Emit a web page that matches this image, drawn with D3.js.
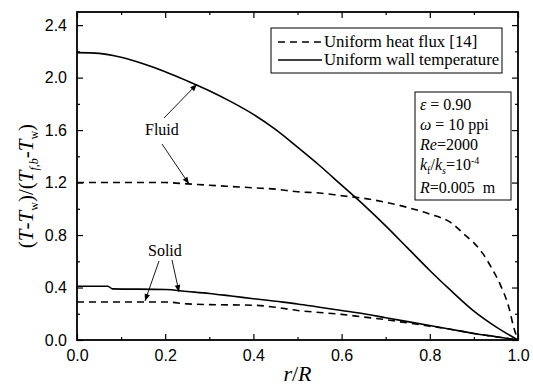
<!DOCTYPE html>
<html>
<head>
<meta charset="utf-8">
<script src="https://cdn.jsdelivr.net/npm/d3@7"></script>
<style>
  body { margin: 0; background: #fff; }
  svg { display: block; }
  .serif { font-family: "Liberation Serif", "Times New Roman", Times, serif; }
  .sans { font-family: "Liberation Sans", Arial, Helvetica, sans-serif; }
</style>
</head>
<body>
<div id="chart"></div>
<script>
// data
const rFluidUWT = [0, 0.05, 0.1, 0.15, 0.2, 0.25, 0.3, 0.35, 0.4, 0.45, 0.5, 0.55, 0.6, 0.65, 0.7, 0.75, 0.8, 0.85, 0.9, 0.95, 1.0];
const vFluidUWT = [2.19, 2.185, 2.155, 2.105, 2.045, 1.975, 1.90, 1.815, 1.72, 1.605, 1.47, 1.33, 1.18, 1.03, 0.87, 0.70, 0.53, 0.37, 0.22, 0.10, 0];

const rFluidUHF = [0, 0.1, 0.2, 0.25, 0.3, 0.35, 0.4, 0.45, 0.5, 0.55, 0.6, 0.65, 0.7, 0.75, 0.8, 0.85, 0.88, 0.9, 0.92, 0.94, 0.96, 0.98, 0.99, 1.0];
const vFluidUHF = [1.2, 1.2, 1.2, 1.19, 1.18, 1.17, 1.16, 1.15, 1.13, 1.12, 1.10, 1.08, 1.05, 1.01, 0.96, 0.89, 0.80, 0.74, 0.66, 0.55, 0.42, 0.24, 0.10, 0];

const rSolidUWT = [0, 0.07, 0.08, 0.2, 0.25, 0.3, 0.35, 0.4, 0.45, 0.5, 0.55, 0.6, 0.65, 0.7, 0.75, 0.8, 0.85, 0.9, 0.95, 1.0];
const vSolidUWT = [0.41, 0.41, 0.39, 0.385, 0.37, 0.355, 0.335, 0.315, 0.295, 0.275, 0.25, 0.225, 0.20, 0.17, 0.14, 0.11, 0.08, 0.05, 0.025, 0];

const rSolidUHF = [0, 0.2, 0.25, 0.3, 0.4, 0.45, 0.5, 0.55, 0.6, 0.65, 0.7, 0.75, 0.8, 0.85, 0.9, 0.95, 1.0];
const vSolidUHF = [0.29, 0.29, 0.275, 0.27, 0.265, 0.25, 0.225, 0.21, 0.195, 0.175, 0.155, 0.13, 0.105, 0.08, 0.05, 0.025, 0];

const xTicks = [0, 0.2, 0.4, 0.6, 0.8, 1.0];
const yTicks = [0, 0.4, 0.8, 1.2, 1.6, 2.0, 2.4];
const legendLabels = ["Uniform heat flux [14]", "Uniform wall temperature"];

let width = 533;
let height = 385;
let margin = { top: 12, right: 15, bottom: 45, left: 77 };
let plotWidth = width - margin.left - margin.right;
let plotHeight = height - margin.top - margin.bottom;

let svg = d3.select("#chart").append("svg").attr("width", width).attr("height", height);

svg.append("defs").append("marker")
  .attr("id", "arrow")
  .attr("viewBox", "0 0 10 10")
  .attr("refX", 10).attr("refY", 5)
  .attr("markerWidth", 9).attr("markerHeight", 7)
  .attr("markerUnits", "userSpaceOnUse")
  .attr("orient", "auto")
  .append("path").attr("d", "M0,1 L10,5 L0,9 Z").attr("fill", "#000");

let plot = svg.append("g").attr("transform", `translate(${margin.left},${margin.top})`);

let x = d3.scaleLinear().domain([0, 1]).range([0, plotWidth]);
let y = d3.scaleLinear().domain([0, 2.5]).range([plotHeight, 0]);

// axes: ticks inward on all four sides
function styleAxis(g) {
  g.attr("font-family", null).attr("font-size", null);
  g.select(".domain").remove();
  g.selectAll("line").attr("stroke", "#000").attr("stroke-width", 1.2);
  g.selectAll("text").classed("sans", true).attr("font-size", 16).attr("fill", "#000");
}
let xMinor = d3.range(0.1, 1, 0.2);
let yMinor = d3.range(0.2, 2.5, 0.4);

plot.append("g").attr("transform", `translate(0,${plotHeight})`)
  .call(d3.axisBottom(x).tickValues(xTicks).tickFormat(d3.format(".1f")).tickSizeInner(-6).tickPadding(10))
  .call(styleAxis);
plot.append("g").attr("transform", `translate(0,${plotHeight})`)
  .call(d3.axisBottom(x).tickValues(xMinor).tickFormat("").tickSizeInner(-3)).call(styleAxis);
plot.append("g")
  .call(d3.axisTop(x).tickValues(xTicks).tickFormat("").tickSizeInner(-6)).call(styleAxis);
plot.append("g")
  .call(d3.axisTop(x).tickValues(xMinor).tickFormat("").tickSizeInner(-3)).call(styleAxis);

plot.append("g")
  .call(d3.axisLeft(y).tickValues(yTicks).tickFormat(d3.format(".1f")).tickSizeInner(-6).tickPadding(10))
  .call(styleAxis);
plot.append("g")
  .call(d3.axisLeft(y).tickValues(yMinor).tickFormat("").tickSizeInner(-3)).call(styleAxis);
plot.append("g").attr("transform", `translate(${plotWidth},0)`)
  .call(d3.axisRight(y).tickValues(yTicks).tickFormat("").tickSizeInner(-6)).call(styleAxis);
plot.append("g").attr("transform", `translate(${plotWidth},0)`)
  .call(d3.axisRight(y).tickValues(yMinor).tickFormat("").tickSizeInner(-3)).call(styleAxis);

plot.append("rect")
  .attr("width", plotWidth).attr("height", plotHeight)
  .attr("fill", "none").attr("stroke", "#000").attr("stroke-width", 1.8);

// curves
let line = d3.line().x((d) => x(d[0])).y((d) => y(d[1])).curve(d3.curveMonotoneX);
let series = [
  { r: rFluidUWT, v: vFluidUWT, dash: null },
  { r: rFluidUHF, v: vFluidUHF, dash: "7,5" },
  { r: rSolidUWT, v: vSolidUWT, dash: null },
  { r: rSolidUHF, v: vSolidUHF, dash: "7,5" },
];
plot.selectAll(".curve").data(series).enter().append("path")
  .classed("curve", true)
  .attr("d", (s) => line(s.r.map((r, i) => [r, s.v[i]])))
  .attr("fill", "none").attr("stroke", "#000").attr("stroke-width", 1.6)
  .attr("stroke-dasharray", (s) => s.dash);

// annotations
function arrow(x1, y1, x2, y2) {
  svg.append("line").attr("x1", x1).attr("y1", y1).attr("x2", x2).attr("y2", y2)
    .attr("stroke", "#000").attr("stroke-width", 0.9).attr("marker-end", "url(#arrow)");
}
svg.append("text").classed("serif", true).attr("x", 145).attr("y", 135).attr("font-size", 16).text("Fluid");
arrow(164, 118, x(0.272) + margin.left, y(1.95) + margin.top);
arrow(162, 144, 189, 184);
svg.append("text").classed("serif", true).attr("x", 148).attr("y", 256).attr("font-size", 16).text("Solid");
arrow(159, 261, 145, 301);
arrow(172, 260, 179, 292);

// legend
let legend = svg.append("g");
legend.append("rect").attr("x", 271).attr("y", 28).attr("width", 231).attr("height", 45)
  .attr("fill", "#fff").attr("stroke", "#000").attr("stroke-width", 1);
legendLabels.forEach((lab, i) => {
  let ly = 42 + i * 18;
  legend.append("line").attr("x1", 278).attr("x2", 322).attr("y1", ly).attr("y2", ly)
    .attr("stroke", "#000").attr("stroke-width", 1.6).attr("stroke-dasharray", i === 0 ? "7,5" : null);
  legend.append("text").classed("serif", true).attr("x", 324).attr("y", ly + 5).attr("font-size", 16.8).text(lab);
});

// parameter box
let pbox = svg.append("g").classed("serif", true).attr("font-size", 16);
pbox.append("rect").attr("x", 415).attr("y", 92).attr("width", 96).attr("height", 108)
  .attr("fill", "#fff").attr("stroke", "#000").attr("stroke-width", 1);
let p1 = pbox.append("text").attr("x", 420).attr("y", 110);
p1.append("tspan").attr("font-style", "italic").text("ε");
p1.append("tspan").text(" = 0.90");
let p2 = pbox.append("text").attr("x", 420).attr("y", 130);
p2.append("tspan").attr("font-style", "italic").text("ω");
p2.append("tspan").text(" = 10 ppi");
let p3 = pbox.append("text").attr("x", 420).attr("y", 150);
p3.append("tspan").attr("font-style", "italic").text("Re");
p3.append("tspan").text("=2000");
let p4 = pbox.append("text").attr("x", 420).attr("y", 170);
p4.append("tspan").attr("font-style", "italic").text("k");
p4.append("tspan").attr("font-size", 10).attr("dy", 4).text("f");
p4.append("tspan").attr("dy", -4).text("/");
p4.append("tspan").attr("font-style", "italic").text("k");
p4.append("tspan").attr("font-size", 10).attr("font-style", "italic").attr("dy", 4).text("s");
p4.append("tspan").attr("dy", -4).text("=10");
p4.append("tspan").attr("font-size", 10).attr("dy", -6).text("-4");
let p5 = pbox.append("text").attr("x", 420).attr("y", 193);
p5.append("tspan").attr("font-style", "italic").text("R");
p5.append("tspan").text("=0.005\u00a0\u00a0m");

// axis titles
let xt = svg.append("text").classed("serif", true).attr("x", margin.left + plotWidth / 2).attr("y", 381)
  .attr("text-anchor", "middle").attr("font-size", 22).attr("font-style", "italic");
xt.append("tspan").text("r");
xt.append("tspan").attr("font-style", "normal").text("/");
xt.append("tspan").text("R");

let yt = svg.append("text").classed("serif", true)
  .attr("transform", `translate(33,${margin.top + plotHeight / 2 + 10}) rotate(-90)`)
  .attr("text-anchor", "middle").attr("font-size", 21);
yt.append("tspan").text("(");
yt.append("tspan").attr("font-style", "italic").text("T");
yt.append("tspan").text("-");
yt.append("tspan").attr("font-style", "italic").text("T");
yt.append("tspan").attr("font-size", 12).attr("dy", 5).text("w");
yt.append("tspan").attr("dy", -5).text(")/(");
yt.append("tspan").attr("font-style", "italic").text("T");
yt.append("tspan").attr("font-size", 12).attr("font-style", "italic").attr("dy", 5).text("f,b");
yt.append("tspan").attr("dy", -5).text("-");
yt.append("tspan").attr("font-style", "italic").text("T");
yt.append("tspan").attr("font-size", 12).attr("dy", 5).text("w");
yt.append("tspan").attr("dy", -5).text(")");
</script>
</body>
</html>
